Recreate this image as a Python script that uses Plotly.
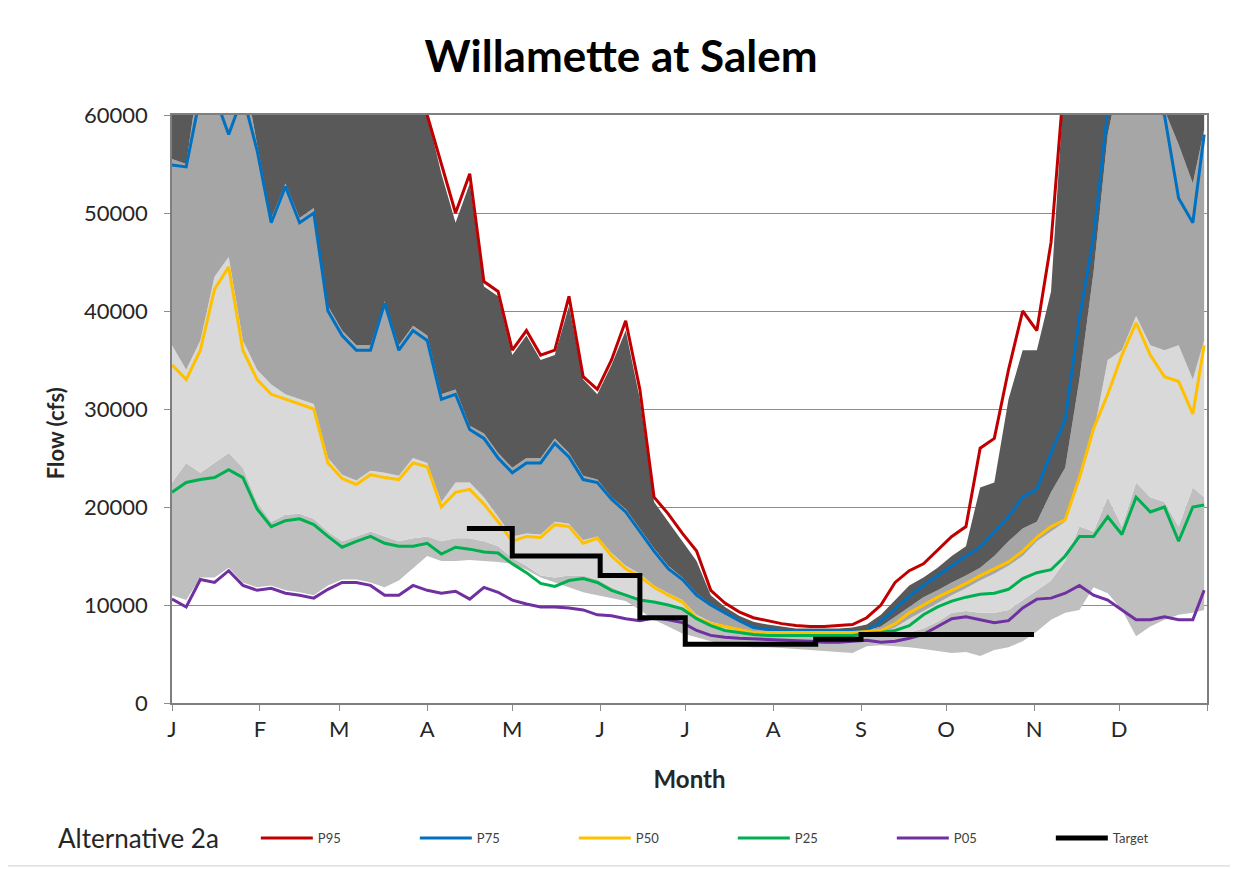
import plotly.graph_objects as go

# ---------------- data ----------------
days = [0, 5, 10, 15, 20, 25, 30, 35, 40, 45,
        50, 55, 60, 65, 70, 75, 80, 85, 90, 95,
        100, 105, 110, 115, 120, 125, 130, 135, 140, 145,
        150, 155, 160, 165, 170, 175, 180, 185, 190, 195,
        200, 205, 210, 215, 220, 225, 230, 235, 240, 245,
        250, 255, 260, 265, 270, 275, 280, 285, 290, 295,
        300, 305, 310, 315, 320, 325, 330, 335, 340, 345,
        350, 355, 360, 364]

month_ticks = [0, 31, 59, 90, 120, 151, 181, 212, 243, 273, 304, 334, 365]
month_labels = ["J", "F", "M", "A", "M", "J", "J", "A", "S", "O", "N", "D", ""]

# Alternative 2a percentiles (lines)
alt_p95 = [65000, 65000, 65000, 65000, 65000, 65000, 65000, 65000, 65000, 65000,
           65000, 65000, 65000, 65000, 65000, 65000, 65000, 63000, 60000, 55000,
           50000, 54000, 43000, 42000, 36000, 38000, 35500, 36000, 41500, 33300,
           32000, 35000, 39000, 32000, 21000, 19300, 17300, 15500, 11500, 10200,
           9300, 8700, 8400, 8100, 7900, 7800, 7800, 7900, 8000, 8700,
           10000, 12300, 13500, 14200, 15600, 17000, 18000, 26000, 27000, 34000,
           40000, 38000, 47000, 65000, 65000, 65000, 65000, 65000, 65000, 65000,
           65000, 65000, 65000, 65000]

alt_p75 = [54900, 54700, 62000, 62000, 58000, 62000, 56400, 49000, 52700, 49000,
           50000, 40000, 37500, 36000, 36000, 40800, 36000, 38000, 37000, 31000,
           31500, 27900, 27000, 25000, 23500, 24500, 24500, 26500, 25100, 22800,
           22500, 20800, 19500, 17500, 15500, 13700, 12600, 11000, 10000, 9200,
           8400, 7700, 7500, 7400, 7400, 7400, 7400, 7400, 7400, 7400,
           8300, 9600, 10900, 12000, 13000, 14000, 15000, 15900, 17500, 19000,
           21000, 21800, 25500, 28900, 39400, 47500, 60500, 62000, 62000, 61000,
           60000, 51500, 49000, 58000]

alt_p50 = [34500, 33000, 36000, 42200, 44500, 36000, 33000, 31500, 31000, 30500,
           30000, 24500, 22900, 22300, 23300, 23000, 22800, 24500, 24100, 20000,
           21500, 21800, 20300, 18500, 16500, 17000, 16900, 18200, 18000, 16300,
           16800, 15000, 13700, 12900, 11800, 11000, 10300, 8700, 8100, 7800,
           7500, 7200, 7200, 7200, 7200, 7200, 7200, 7200, 7200, 7300,
           7400, 8100, 9200, 10000, 10800, 11500, 12200, 13000, 13700, 14400,
           15500, 16900, 18000, 18700, 23000, 28000, 31500, 35500, 38800, 35500,
           33300, 32800, 29500, 36500]

alt_p25 = [21500, 22500, 22800, 23000, 23800, 23000, 19800, 18000, 18600, 18800,
           18200, 17000, 15900, 16500, 17000, 16300, 16000, 16000, 16300, 15200,
           15900, 15700, 15400, 15300, 14200, 13300, 12200, 11900, 12500, 12700,
           12300, 11500, 11000, 10500, 10300, 10000, 9600, 8600, 7900, 7400,
           7200, 7000, 6900, 6900, 6900, 6900, 6900, 6900, 6900, 7100,
           7200, 7400, 7900, 9000, 9800, 10400, 10800, 11100, 11200, 11600,
           12700, 13300, 13600, 15000, 17000, 17000, 19000, 17200, 21000, 19500,
           20000, 16500, 20000, 20200]

alt_p05 = [10600, 9800, 12600, 12300, 13500, 12000, 11500, 11700, 11200, 11000,
           10700, 11600, 12300, 12300, 12000, 11000, 11000, 12000, 11500, 11200,
           11400, 10600, 11800, 11300, 10500, 10100, 9800, 9800, 9700, 9500,
           9000, 8900, 8600, 8400, 8700, 8500, 8200, 7400, 6900, 6700,
           6600, 6550, 6500, 6400, 6350, 6300, 6200, 6200, 6300, 6400,
           6200, 6300, 6600, 7000, 7800, 8600, 8800, 8500, 8200, 8400,
           9700, 10600, 10700, 11200, 12000, 11000, 10500, 9500, 8500, 8500,
           8800, 8500, 8500, 11500]

# Comparison (grey bands) percentiles
base_p95 = [65000, 65000, 65000, 65000, 65000, 65000, 65000, 65000, 65000, 65000,
            65000, 65000, 65000, 65000, 65000, 65000, 65000, 63000, 60000, 54000,
            49000, 53000, 42500, 41500, 35500, 37500, 35000, 35500, 40500, 33000,
            31500, 34500, 38000, 31000, 20500, 18500, 16500, 14500, 11000, 9800,
            8900, 8300, 8000, 7800, 7600, 7600, 7600, 7600, 7700, 8000,
            9000, 10500, 12000, 12800, 13800, 15000, 16000, 22000, 22500, 31000,
            36000, 36000, 42000, 65000, 65000, 65000, 65000, 65000, 65000, 65000,
            65000, 65000, 65000, 65000]

base_p75 = [55500, 55000, 65000, 65000, 62000, 65000, 57000, 49500, 53000, 49500,
            50500, 40500, 38000, 36500, 36500, 41000, 36500, 38500, 37500, 31500,
            32000, 28300, 27500, 25500, 24000, 25000, 25000, 27000, 25500, 23200,
            22800, 21000, 19800, 17800, 15800, 14000, 12800, 11200, 10100, 9300,
            8500, 7800, 7500, 7400, 7400, 7400, 7400, 7400, 7400, 7400,
            7800, 8800, 9800, 10800, 11500, 12300, 13000, 13800, 15000, 16500,
            17800, 18500, 21500, 24000, 33000, 44000, 58000, 65000, 65000, 65000,
            60500, 57000, 53000, 58500]

base_p50 = [36500, 34000, 37000, 43500, 45500, 37000, 34000, 32500, 31500, 31000,
            30500, 25000, 23300, 22700, 23700, 23500, 23200, 25000, 24500, 20500,
            22500, 22500, 21000, 19000, 17000, 17300, 17200, 18500, 18300, 16600,
            17000, 15300, 14000, 13200, 12000, 11200, 10500, 9000, 8300, 7900,
            7600, 7300, 7200, 7200, 7200, 7200, 7200, 7200, 7200, 7200,
            7200, 7700, 8600, 9400, 10200, 11000, 11700, 12500, 13200, 14000,
            15000, 16500, 17500, 18500, 22500, 27500, 35000, 36000, 39500, 36500,
            36000, 36500, 33000, 37000]

base_p25 = [22500, 24500, 23500, 24500, 25500, 24000, 20500, 18500, 19200, 19300,
            18800, 17500, 16500, 17000, 17500, 17000, 16500, 16800, 17000, 16500,
            16800, 16800, 16500, 16000, 14800, 14000, 13000, 12800, 13000, 13000,
            12600, 11800, 11200, 10700, 10400, 10100, 9700, 8700, 8000, 7500,
            7200, 7000, 6900, 6900, 6900, 6900, 6900, 6900, 6900, 6800,
            6800, 6900, 7200, 7600, 8300, 9200, 9400, 9200, 9200, 9500,
            10500, 11500, 12500, 14500, 18000, 17500, 21000, 18000, 22500, 21000,
            20500, 18000, 22000, 21000]

base_p05 = [11000, 10500, 12800, 12800, 13800, 12300, 11800, 12000, 11500, 11300,
            11000, 12000, 12600, 12600, 12300, 11800, 12500, 13800, 15000, 14500,
            14500, 14600, 14500, 14400, 14200, 13600, 12800, 12300, 11800, 11300,
            11000, 10700, 10400, 9500, 8500, 7800, 7100, 6700, 6300, 6000,
            5800, 5700, 5700, 5600, 5500, 5400, 5300, 5200, 5100, 5800,
            5900, 5800, 5700, 5500, 5300, 5100, 5200, 4800, 5400, 5700,
            6300, 7300, 8500, 9200, 9500, 11800, 11200, 9500, 6800, 7800,
            8500, 9000, 9200, 9500]

# Flow target (step function)
target_days = [104, 120, 151, 165, 181, 227, 243, 304]
target_flow = [17800, 15000, 13000, 8700, 6000, 6500, 7000, 7000]

# ---------------- figure ----------------
FONT = "Lato"
fig = go.Figure()

band_specs = [
    (base_p05, None, None),
    (base_p25, "tonexty", "#bfbfbf"),
    (base_p50, "tonexty", "#d9d9d9"),
    (base_p75, "tonexty", "#a6a6a6"),
    (base_p95, "tonexty", "#595959"),
]
for vals, fill, color in band_specs:
    fig.add_trace(go.Scatter(
        x=days, y=vals, mode="lines", line=dict(width=0, color="rgba(0,0,0,0)"),
        fill=fill, fillcolor=color, showlegend=False, hoverinfo="skip"))

line_specs = [
    ("P95", alt_p95, "#c00000"),
    ("P75", alt_p75, "#0070c0"),
    ("P50", alt_p50, "#ffc000"),
    ("P25", alt_p25, "#00b050"),
    ("P05", alt_p05, "#7030a0"),
]
for name, vals, color in line_specs:
    fig.add_trace(go.Scatter(
        x=days, y=vals, mode="lines", name=name,
        line=dict(color=color, width=3)))

fig.add_trace(go.Scatter(
    x=target_days, y=target_flow, mode="lines", name="Target",
    line=dict(color="black", width=5, shape="hv")))

# page body has an 8px margin -> figure is 8px smaller and offset
fig.update_layout(
    width=1230, height=861,
    margin=dict(l=164, r=31, t=107, b=166, autoexpand=False),
    paper_bgcolor="white", plot_bgcolor="white",
    font=dict(family=FONT, color="#262626"),
    title=dict(text="<b>Willamette at Salem</b>", x=0.4984, xanchor="center",
               y=0.943, yanchor="middle",
               font=dict(family=FONT, size=44, color="black")),
    showlegend=True,
    legend=dict(orientation="h", x=0.081, xanchor="left", y=-0.2296,
                yanchor="middle", entrywidth=92, entrywidthmode="pixels",
                itemwidth=52, font=dict(family=FONT, size=13, color="#404040"),
                bgcolor="rgba(0,0,0,0)", traceorder="normal"),
    annotations=[
        dict(text="Alternative 2a", xref="paper", yref="paper",
             x=-0.112, y=-0.2296, xanchor="left", yanchor="middle",
             showarrow=False, font=dict(family=FONT, size=26, color="#262626")),
        dict(text="<b>Flow (cfs)</b>", xref="paper", yref="paper",
             x=-0.113, y=0.459, xanchor="center", yanchor="middle", textangle=-90,
             showarrow=False, font=dict(family=FONT, size=22, color="#262626")),
    ],
    shapes=[dict(type="rect", xref="paper", yref="paper",
                 x0=-0.1594, x1=1.0242, y0=-0.277, y1=1.194,
                 line=dict(color="#d0d0d0", width=1), layer="below")],
)

fig.update_xaxes(
    range=[0, 365], tickmode="array", tickvals=month_ticks, ticktext=month_labels,
    ticks="outside", ticklen=6, tickcolor="#8c8c8c", showgrid=False,
    showline=True, linecolor="#7f7f7f", linewidth=1.5, mirror=True,
    tickfont=dict(family=FONT, size=22, color="#262626"),
    title=dict(text="<b>Month</b>", font=dict(family=FONT, size=24, color="#262626"),
               standoff=30),
    zeroline=False)

fig.update_yaxes(
    range=[0, 60000], tickmode="array", tickvals=[0, 10000, 20000, 30000, 40000, 50000, 60000],
    ticktext=["0", "10000", "20000", "30000", "40000", "50000", "60000"],
    ticks="outside", ticklen=6, tickcolor="#8c8c8c", ticklabelstandoff=12,
    showgrid=True, gridcolor="#8c8c8c", gridwidth=1.3,
    showline=True, linecolor="#7f7f7f", linewidth=1.5, mirror=True,
    tickfont=dict(family=FONT, size=22, color="#262626"),
    zeroline=False)

fig.write_html("out.html")
